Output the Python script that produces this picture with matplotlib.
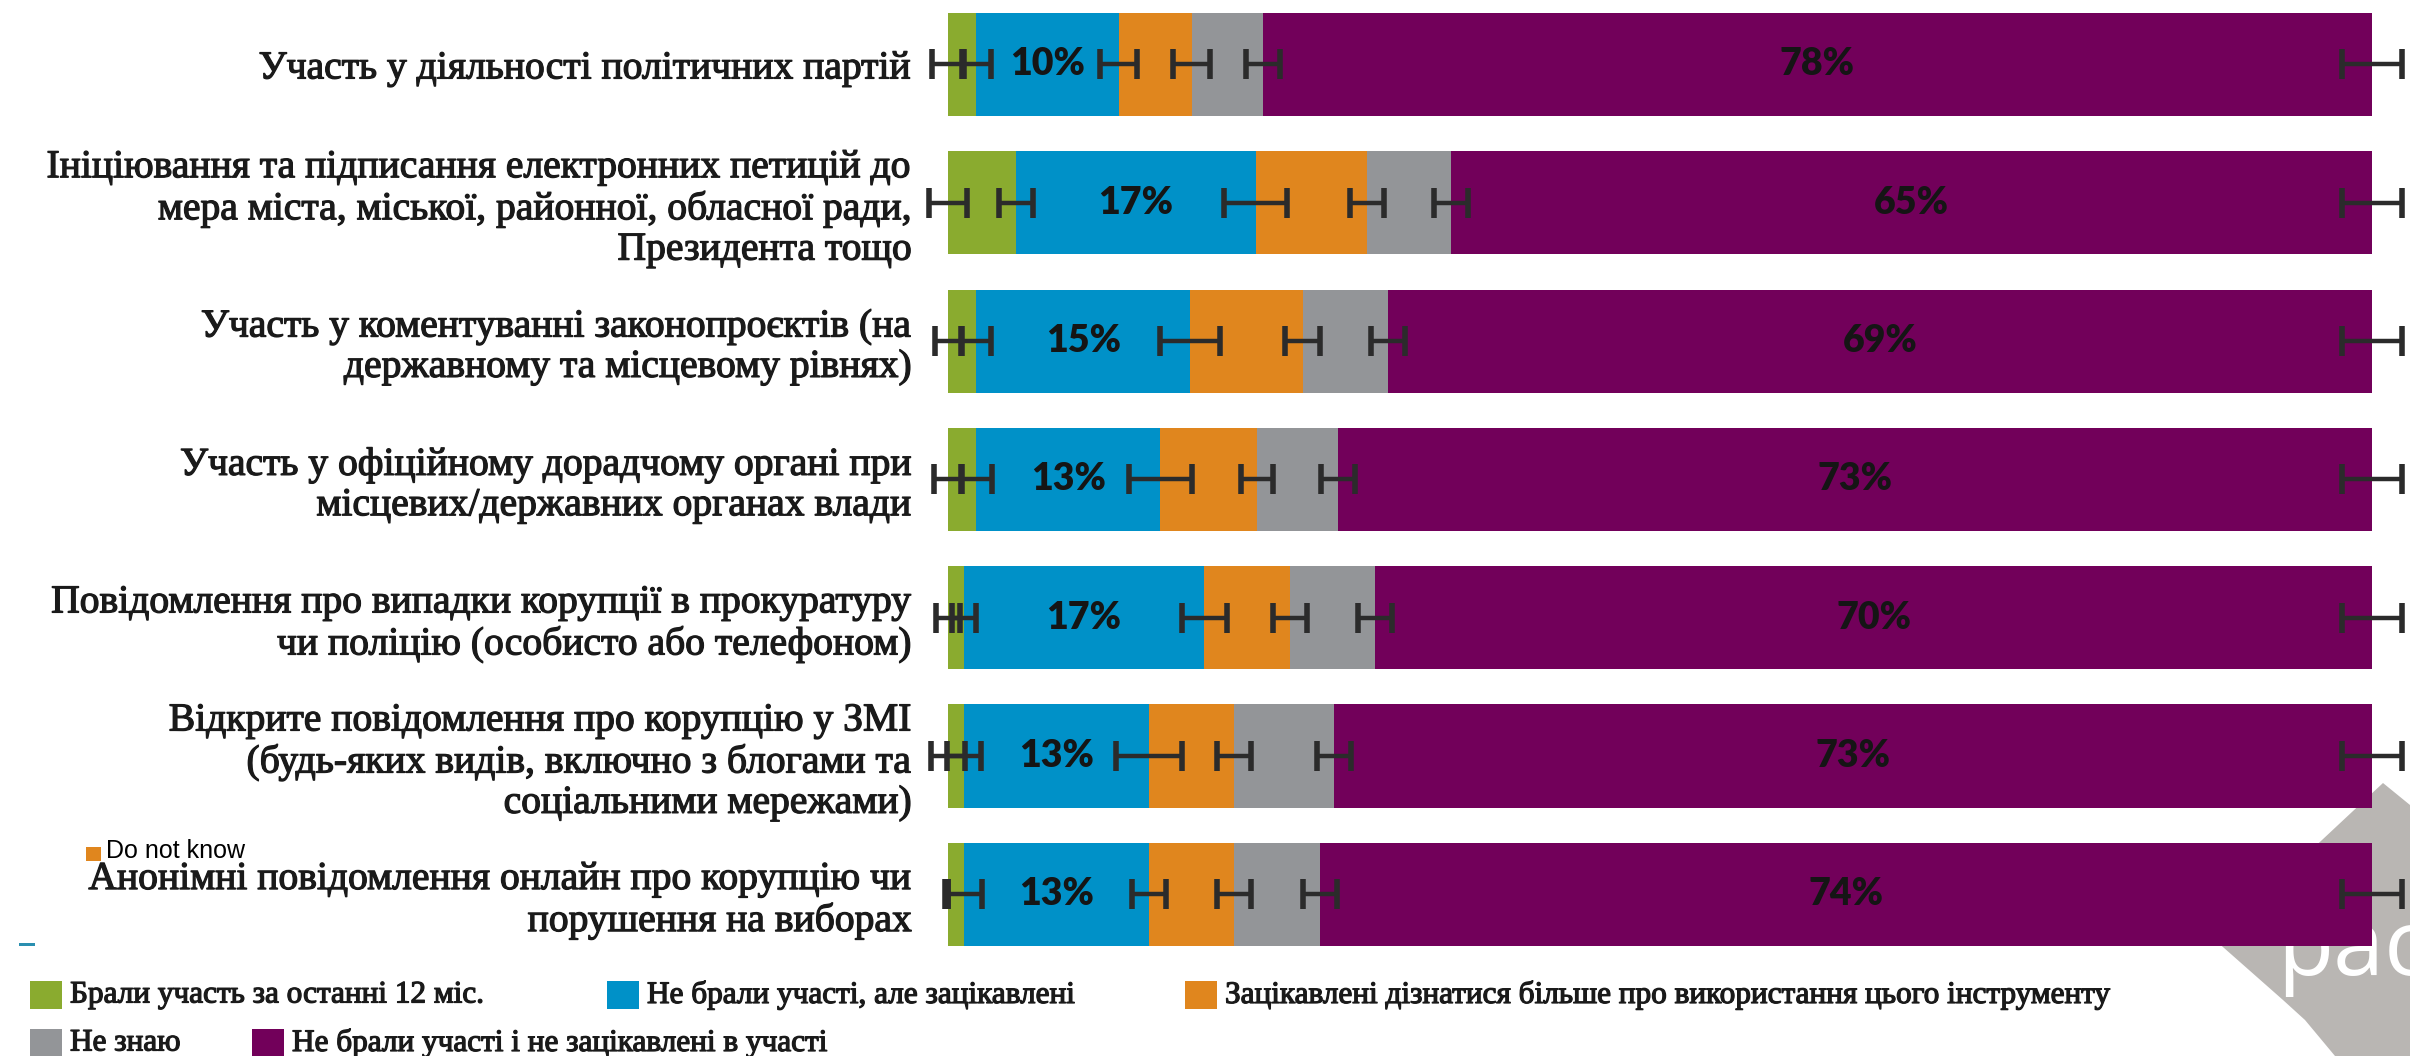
import matplotlib.pyplot as plt
import matplotlib.patheffects as pe
from matplotlib.patches import Rectangle, Polygon

W, H = 2410, 1056

categories = [
    "Участь у діяльності політичних партій",
    "Ініціювання та підписання електронних петицій до\nмера міста, міської, районної, обласної ради,\nПрезидента тощо",
    "Участь у коментуванні законопроєктів (на\nдержавному та місцевому рівнях)",
    "Участь у офіційному дорадчому органі при\nмісцевих/державних органах влади",
    "Повідомлення про випадки корупції в прокуратуру\nчи поліцію (особисто або телефоном)",
    "Відкрите повідомлення про корупцію у ЗМІ\n(будь-яких видів, включно з блогами та\nсоціальними мережами)",
    "Анонімні повідомлення онлайн про корупцію чи\nпорушення на виборах",
]

series_names = [
    "Брали участь за останні 12 міс.",
    "Не брали участі, але зацікавлені",
    "Зацікавлені дізнатися більше про використання цього інструменту",
    "Не знаю",
    "Не брали участі і не зацікавлені в участі",
]
colors = ["#8aab2f", "#0091c8", "#e0861e", "#939598", "#72005a"]

# shares in %, one list per series (rows top to bottom)
took_part = [2.0, 4.8, 2.0, 2.0, 1.1, 1.1, 1.1]
interested = [10.0, 16.8, 15.0, 12.9, 16.9, 13.0, 13.0]
want_know = [5.1, 7.8, 7.9, 6.8, 6.0, 6.0, 6.0]
dont_know = [5.0, 5.9, 6.0, 5.7, 6.0, 7.0, 6.0]
not_interested = [77.9, 64.7, 69.1, 72.6, 70.0, 72.9, 73.9]

# error half-widths (%) at the segment edges: 0, after each segment
err_edges = [
    [1.1, 1.0, 1.3, 1.3, 1.2, 2.1],
    [1.3, 1.2, 2.2, 1.2, 1.2, 2.1],
    [0.9, 1.05, 2.1, 1.2, 1.2, 2.1],
    [1.0, 1.1, 2.2, 1.1, 1.2, 2.1],
    [0.85, 0.85, 1.6, 1.2, 1.2, 2.1],
    [1.2, 1.2, 2.3, 1.2, 1.2, 2.1],
    [0.0, 1.3, 1.2, 1.2, 1.2, 2.1],
]

series = [took_part, interested, want_know, dont_know, not_interested]
labelled = [1, 4]  # series that get a % label

ink = "#1a1a1a"
thick = [pe.withStroke(linewidth=0.9, foreground=ink)]

fig = plt.figure(figsize=(W / 100, H / 100), dpi=100)

# watermark logo behind the bars
logo = [(2215, 940), (2383, 783), (2410, 805), (2410, 1056), (2335, 1056),
        (2305, 1020), (2283, 1000)]
fig.patches.append(Polygon([(x / W, 1 - y / H) for x, y in logo], closed=True,
                           transform=fig.transFigure, facecolor="#b9b6b3",
                           edgecolor="none", zorder=0))
fig.text(2277 / W, 1 - 975 / H, "pac", color="white", fontsize=66,
         family="Open Sans", va="baseline", ha="left", zorder=1)

ax = fig.add_axes([948 / W, 1 - 960 / H, 1424 / W, 960 / H])
ax.set_zorder(3)
ax.set_facecolor("none")
ax.set_xlim(0, 100)
ax.set_ylim(6.475, -0.466)

ypos = list(range(len(categories)))
left = [0.0] * len(categories)
edges = [[0.0] for _ in categories]
for k, vals in enumerate(series):
    ax.barh(ypos, vals, left=left, height=0.745, color=colors[k],
            edgecolor="none", zorder=2)
    for i, v in enumerate(vals):
        if k in labelled:
            ax.text(left[i] + v / 2, i, f"{round(v)}%", ha="center",
                    va="center", fontsize=27, fontweight="heavy",
                    family="Lato", color="#151515", zorder=5)
        left[i] += v
        edges[i].append(left[i])

for i in ypos:
    ax.errorbar(edges[i], [i] * len(edges[i]), xerr=err_edges[i], fmt="none",
                ecolor="#2b2b2b", elinewidth=3.2, capsize=11, capthick=4,
                zorder=4, clip_on=False)

ax.set_yticks(ypos)
ax.set_yticklabels(categories, family="Liberation Serif", fontsize=28.5,
                   linespacing=1.12, color=ink)
for t in ax.get_yticklabels():
    t.set_path_effects(thick)
ax.tick_params(axis="y", length=0, pad=26)
ax.set_xticks([])
for s in ax.spines.values():
    s.set_visible(False)

# legend, laid out by hand as in the source
leg_pos = [(30, 995), (607, 995), (1185, 995), (30, 1043), (252, 1043)]
for (px, py), name, c in zip(leg_pos, series_names, colors):
    fig.patches.append(Rectangle((px / W, 1 - (py + 14) / H), 32 / W, 28 / H,
                                 transform=fig.transFigure, facecolor=c,
                                 edgecolor="none"))
    fig.text((px + 40) / W, 1 - py / H, name, family="Liberation Serif",
             fontsize=22.5, va="center", ha="left", color=ink,
             path_effects=thick)

# stray bits from the source image
fig.patches.append(Rectangle((86 / W, 1 - 861 / H), 15 / W, 14 / H,
                             transform=fig.transFigure, facecolor="#e0861e",
                             edgecolor="none"))
fig.text(106 / W, 1 - 851 / H, "Do not know", family="Liberation Sans",
         fontsize=18, va="center", ha="left", color="black")
fig.patches.append(Rectangle((19 / W, 1 - 946 / H), 16 / W, 3 / H,
                             transform=fig.transFigure, facecolor="#2a8fb0",
                             edgecolor="none"))

fig.savefig("out.png", dpi=100)
